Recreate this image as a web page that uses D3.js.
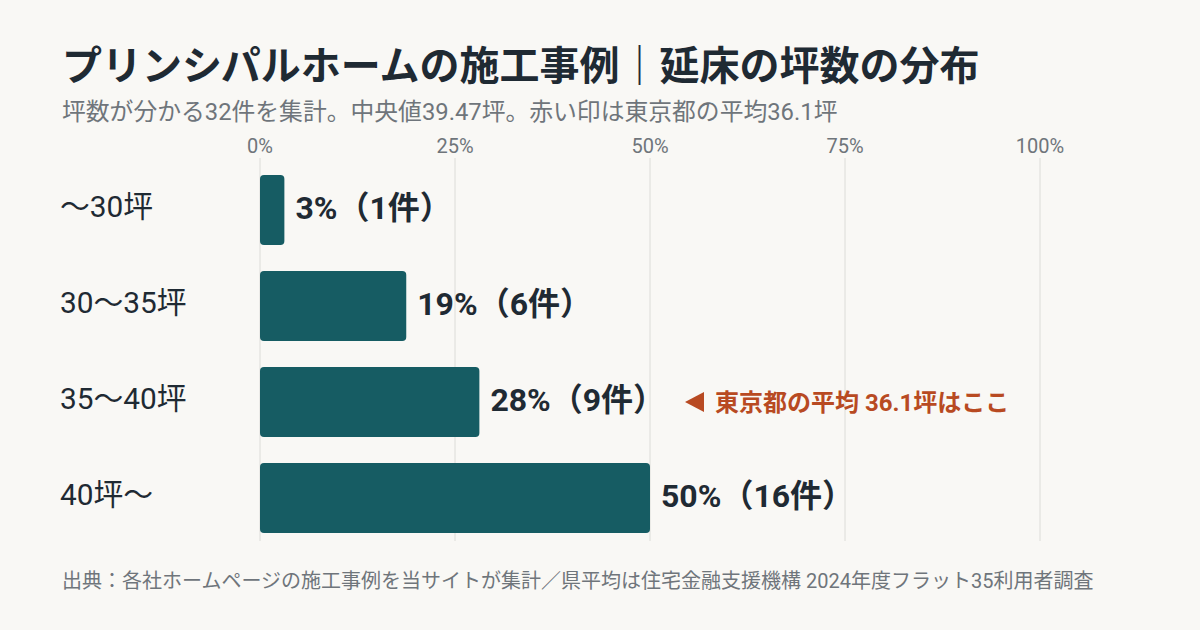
<!DOCTYPE html>
<html><head><meta charset="utf-8">
<script src="https://cdn.jsdelivr.net/npm/d3@7/dist/d3.min.js"></script>
<style>
html,body{margin:0;padding:0;background:#f9f8f5;}
svg{display:block;font-family:Roboto,"Noto Sans CJK JP","Noto Sans",sans-serif;}
</style></head>
<body><svg id="c" width="1200" height="630"></svg>
<script>
const categories = ["〜30坪", "30〜35坪", "35〜40坪", "40坪〜"];
const counts = [1, 6, 9, 16];
const total = 32;
const shares = [1/32, 6/32, 9/32, 16/32];
const valueLabels = ["3%（1件）", "19%（6件）", "28%（9件）", "50%（16件）"];
const tickValues = [0, 0.25, 0.5, 0.75, 1];
const tickLabels = ["0%", "25%", "50%", "75%", "100%"];
const title = "プリンシパルホームの施工事例｜延床の坪数の分布";
const subtitle = "坪数が分かる32件を集計。中央値39.47坪。赤い印は東京都の平均36.1坪";
const markerCategory = "35〜40坪";
const markerText = "東京都の平均 36.1坪はここ";
const source = "出典：各社ホームページの施工事例を当サイトが集計／県平均は住宅金融支援機構 2024年度フラット35利用者調査";

const svg = d3.select("#c");
const x = d3.scaleLinear().domain([0, 1]).range([260, 1040]);
const y = d3.scaleBand().domain(categories).range([162, 546]).paddingInner(0.27).paddingOuter(0.135);

svg.append("text").attr("x", 62).attr("y", 80).attr("font-size", 40).attr("font-weight", 700)
  .attr("fill", "#1f2a33").text(title);
svg.append("text").attr("x", 62).attr("y", 120).attr("font-size", 23.8).attr("fill", "#6f757b").text(subtitle);

// grid
svg.append("g").selectAll("line").data(tickValues).join("line")
  .attr("x1", d => x(d)).attr("x2", d => x(d)).attr("y1", 158).attr("y2", 541)
  .attr("stroke", "#dcdcd8").attr("stroke-width", 1);
svg.append("g").selectAll("text").data(tickValues).join("text")
  .attr("x", d => x(d)).attr("y", 153).attr("text-anchor", "middle")
  .attr("font-size", 20).attr("fill", "#6f757b").text((d, i) => tickLabels[i]);

// bars
svg.append("g").selectAll("rect").data(categories).join("rect")
  .attr("x", x(0)).attr("y", d => y(d)).attr("height", y.bandwidth())
  .attr("width", (d, i) => x(shares[i]) - x(0)).attr("rx", 4).attr("ry", 4)
  .attr("fill", "#165c63");

// category labels
svg.append("g").selectAll("text").data(categories).join("text")
  .attr("x", 60).attr("y", d => y(d) + y.bandwidth() / 2).attr("dy", "0.24em")
  .attr("font-size", 29.8).attr("fill", "#1f2a33").text(d => d);

// value labels
svg.append("g").selectAll("text").data(categories).join("text")
  .attr("x", (d, i) => x(shares[i]) + 11).attr("y", d => y(d) + y.bandwidth() / 2).attr("dy", "0.29em")
  .attr("font-size", 32).attr("font-weight", 700).attr("fill", "#1f2a33").text((d, i) => valueLabels[i]);

// marker
const my = y(markerCategory) + y.bandwidth() / 2;
const mx = 685;
svg.append("path").attr("d", `M${mx},${my} L${mx + 19},${my - 10} L${mx + 19},${my + 10} Z`).attr("fill", "#b84a22");
svg.append("text").attr("x", mx + 30).attr("y", my).attr("dy", "0.36em")
  .attr("font-size", 24).attr("font-weight", 700).attr("fill", "#b84a22").text(markerText);

svg.append("text").attr("x", 62).attr("y", 588).attr("font-size", 20).attr("fill", "#6f757b").text(source);
</script></body></html>
